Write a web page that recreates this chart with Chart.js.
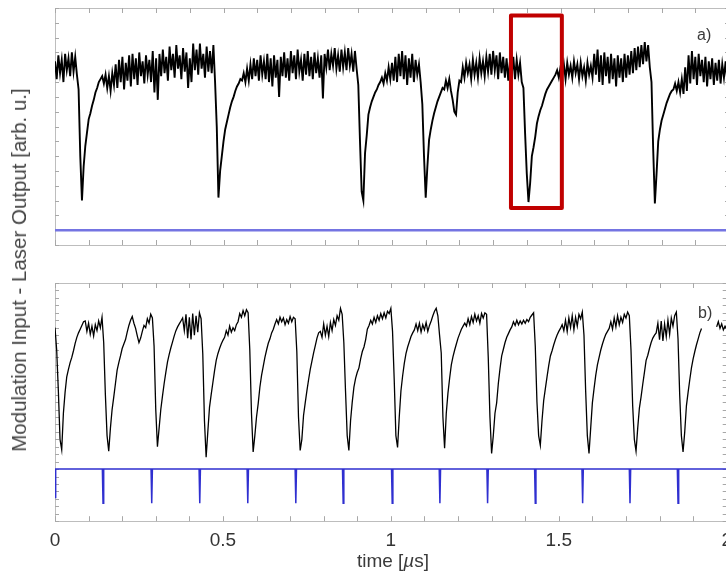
<!doctype html>
<html>
  <head>
    <title>Laser output vs modulation input</title>
    <script src="https://cdn.jsdelivr.net/npm/chart.js@4"></script>
    <style>
      body { margin: 0; background: #fff; overflow: hidden; }
      #wrap { position: relative; width: 726px; height: 573px; overflow: hidden; }
      canvas { position: absolute; left: 0; }
      .lbl { position: absolute; font-family: "Liberation Sans", Arial, sans-serif; color: #3a3a3a; white-space: nowrap; }
    </style>
  </head>
  <body>
    <div id="wrap">
      <canvas id="laserChart" width="740" height="260" style="top:0"></canvas>
      <canvas id="modChart" width="740" height="303" style="top:270px"></canvas>
      <div class="lbl" id="yTitle" style="left:19px; top:270px; font-size:20.5px; color:#454545; transform:translate(-50%,-50%) rotate(-90deg);">Modulation Input - Laser Output [arb. u.]</div>
      <div class="lbl" style="left:393px; top:561px; font-size:19px; transform:translate(-50%,-50%);">time [<i>µ</i>s]</div>
      <div class="lbl" style="left:697px; top:26px; font-size:16px;">a)</div>
      <div class="lbl" style="left:698px; top:304px; font-size:16px;">b)</div>
    </div>
    <script>
      // time base of the scope traces, in µs
      var sampleStep = 0.005;

      // a) laser output, one value per 5 ns
      var laserA = [
        12.4, 11.2, 12.8, 11.6, 12.5, 11.0, 12.9, 11.8, 12.6, 11.4, 13.0, 11.7, 12.7, 11.5, 10.5, 6.0, 3.0, 5.3, 6.7, 7.6,
        8.5, 8.9, 9.4, 9.8, 10.3, 10.6, 11.0, 11.2, 11.4, 10.9, 11.5, 10.6, 11.4, 10.4, 11.6, 10.8, 12.2, 10.6, 12.5, 11.0,
        12.7, 10.5, 12.3, 11.1, 12.8, 10.7, 12.9, 11.2, 12.6, 10.8, 13.0, 11.4, 12.4, 10.9, 12.8, 11.5, 12.5, 11.0, 13.1, 10.3,
        12.6, 9.8, 12.9, 11.4, 13.2, 11.6, 12.7, 11.1, 13.4, 11.8, 12.9, 11.3, 13.5, 11.9, 12.8, 11.2, 13.3, 11.7, 13.0, 10.6,
        12.6, 11.0, 13.6, 11.8, 13.2, 11.5, 13.6, 11.9, 12.9, 11.3, 13.4, 11.7, 13.1, 11.6, 13.5, 11.0, 8.0, 3.2, 5.0, 6.0,
        7.0, 7.8, 8.3, 8.8, 9.3, 9.7, 10.0, 10.4, 10.7, 10.9, 11.2, 11.1, 11.6, 11.0, 11.9, 11.1, 12.2, 11.2, 12.6, 11.4,
        12.5, 11.1, 12.8, 11.5, 12.4, 11.2, 12.9, 11.0, 12.6, 10.7, 12.8, 11.3, 12.5, 10.0, 12.7, 11.4, 13.0, 11.3, 12.6, 11.1,
        13.1, 11.6, 12.8, 11.2, 13.2, 11.7, 12.5, 11.1, 12.9, 11.5, 13.1, 11.4, 12.7, 11.2, 13.0, 11.6, 12.6, 11.3, 12.8, 9.9,
        12.9, 12.0, 13.2, 11.8, 12.9, 12.1, 13.3, 11.9, 12.8, 11.7, 13.2, 12.0, 13.0, 11.8, 13.3, 12.1, 12.9, 11.7, 13.1, 11.9,
        10.8, 7.0, 3.6, 3.0, 6.2, 7.4, 8.8, 9.3, 9.7, 10.0, 10.3, 10.5, 10.8, 11.0, 11.3, 10.9, 11.6, 11.1, 12.0, 11.2,
        12.3, 11.1, 12.7, 11.0, 12.9, 11.4, 13.1, 11.2, 12.8, 10.8, 12.6, 11.3, 12.9, 11.0, 12.5, 11.5, 12.2, 11.0, 9.5, 6.0,
        3.2, 5.3, 7.1, 7.8, 8.4, 8.9, 9.3, 9.7, 10.0, 10.3, 10.6, 10.5, 11.1, 10.6, 11.2, 10.4, 9.8, 9.0, 8.8, 10.3,
        11.1, 11.0, 12.0, 11.3, 12.3, 11.6, 12.2, 11.2, 12.5, 11.5, 12.3, 11.3, 12.6, 11.6, 12.4, 11.4, 12.7, 11.7, 12.9, 11.5,
        13.1, 11.8, 12.8, 11.2, 13.0, 11.6, 12.7, 11.3, 12.6, 11.1, 12.4, 11.4, 12.7, 11.2, 12.5, 11.5, 12.3, 11.0, 10.6, 7.5,
        4.8, 2.9, 4.2, 6.0, 6.6, 7.3, 8.2, 8.7, 9.1, 9.4, 9.8, 10.2, 10.5, 10.7, 10.9, 11.1, 11.3, 11.5, 11.8, 11.3,
        12.0, 11.4, 12.2, 11.2, 12.3, 11.5, 12.1, 11.3, 12.4, 11.6, 12.2, 11.2, 12.3, 11.4, 12.0, 11.1, 12.3, 11.5, 12.1, 11.3,
        12.9, 11.5, 13.2, 11.0, 12.8, 10.8, 13.0, 11.4, 12.7, 10.9, 12.9, 11.2, 12.6, 10.7, 12.8, 11.3, 12.6, 11.0, 12.9, 11.3,
        12.8, 11.5, 13.1, 11.6, 13.3, 11.8, 13.4, 12.0, 13.5, 12.2, 13.7, 12.4, 13.5, 12.0, 11.0, 6.5, 2.8, 4.8, 7.0, 7.8,
        8.4, 8.8, 9.2, 9.6, 9.9, 10.2, 10.4, 10.5, 10.9, 10.4, 11.0, 10.3, 11.2, 10.2, 12.0, 10.4, 12.8, 10.9, 13.1, 11.2,
        12.7, 10.8, 12.9, 11.4, 12.5, 11.0, 12.7, 10.7, 12.4, 11.2, 12.6, 10.8, 12.3, 11.1, 12.5, 10.9, 12.2, 11.3, 12.4, 11.0,
        12.1
      ];

      // a) modulation input (flat)
      var modAT = [0, 2];
      var modAV = [1.0, 1.0];

      // b) laser output, one value per 5 ns (gap where the label sits)
      var laserB = [
        26.0, 23.0, 17.5, 11.0, 9.6, 14.5, 17.3, 19.4, 20.4, 21.3, 22.0, 22.9, 23.9, 24.7, 25.3, 25.8, 26.3, 26.8, 26.9, 25.5,
        26.6, 25.1, 26.2, 24.9, 26.4, 25.6, 26.9, 26.0, 27.4, 24.0, 17.0, 11.5, 9.4, 12.5, 15.0, 16.7, 18.5, 20.3, 21.3, 22.2,
        23.2, 23.8, 24.4, 25.4, 26.3, 27.0, 27.5, 26.6, 25.9, 24.9, 24.0, 24.6, 25.5, 26.3, 26.0, 27.2, 26.6, 27.8, 27.3, 23.5,
        15.0, 10.0, 12.5, 15.0, 16.8, 18.5, 20.0, 21.4, 22.4, 23.3, 24.1, 24.9, 25.6, 26.1, 26.5, 26.9, 27.3, 25.6, 27.8, 24.6,
        27.4, 24.4, 27.9, 25.0, 27.6, 25.4, 28.0, 27.2, 22.5, 13.5, 8.6, 12.0, 15.3, 17.0, 18.6, 20.2, 21.6, 22.5, 23.2, 23.8,
        24.3, 24.7, 25.6, 25.0, 26.2, 25.4, 26.0, 25.6, 26.4, 26.8, 27.9, 27.4, 28.3, 27.6, 28.4, 28.0, 23.0, 14.5, 9.3, 11.5,
        14.0, 15.8, 18.0, 19.6, 20.8, 22.0, 23.0, 23.9, 24.5, 25.3, 25.8, 26.5, 27.1, 26.5, 27.4, 26.8, 27.3, 26.4, 27.1, 26.6,
        27.5, 26.8, 27.4, 27.2, 22.8, 14.0, 9.5, 11.0, 14.2, 15.9, 17.5, 19.0, 20.4, 21.5, 22.6, 23.6, 24.6, 25.3, 25.5, 24.7,
        26.5, 25.0, 26.2, 24.8, 26.7, 25.6, 27.1, 26.3, 27.6, 27.0, 28.6, 27.8, 24.0, 17.5, 11.5, 9.5, 13.5, 16.0, 18.0, 19.2,
        20.0, 20.6, 21.8, 22.8, 23.4, 24.4, 25.8, 26.3, 27.0, 26.5, 27.4, 26.7, 27.6, 27.0, 27.9, 27.2, 28.0, 27.3, 28.2, 27.9,
        28.6, 25.5, 19.0, 11.5, 9.9, 14.0, 17.5, 19.5, 21.2, 22.5, 23.4, 24.1, 24.8, 25.3, 25.7, 26.5, 25.6, 26.6, 25.4, 26.4,
        25.7, 26.7, 25.5, 26.3, 26.9, 27.6, 28.2, 28.6, 27.6, 25.0, 22.6, 14.0, 9.8, 14.5, 17.2, 19.2, 21.0, 22.1, 23.0, 23.8,
        24.6, 25.2, 25.8, 26.2, 26.6, 26.2, 27.2, 26.4, 27.5, 26.7, 27.8, 26.9, 27.6, 26.6, 27.9, 27.3, 28.0, 27.8, 22.0, 14.0,
        9.1, 11.5, 14.5, 15.9, 18.5, 20.5, 22.2, 23.1, 24.0, 24.7, 25.2, 25.7, 26.1, 26.8, 26.3, 27.0, 26.4, 26.9, 26.5, 27.0,
        26.6, 27.1, 26.8, 27.4, 27.7, 28.0, 23.5, 16.0, 11.5, 10.2, 13.5, 16.2, 17.8, 19.4, 20.9, 22.2, 22.9, 23.7, 24.4, 25.0,
        25.5, 25.9, 26.4, 25.6, 27.0, 25.5, 27.3, 26.0, 27.6, 25.7, 27.4, 26.2, 27.8, 27.2, 28.1, 25.0, 17.5, 11.5, 9.1, 12.5,
        15.9, 17.8, 19.6, 21.0, 22.0, 23.0, 23.8, 24.5, 25.1, 25.5, 25.9, 26.8, 25.8, 27.3, 26.1, 27.6, 26.4, 27.4, 26.7, 27.8,
        27.3, 28.1, 27.6, 23.0, 15.5, 11.0, 9.4, 12.5, 15.2, 16.7, 18.4, 20.0, 21.6, 22.3, 23.2, 24.0, 24.6, 25.0, 25.3, 26.6,
        24.4, 26.9, 24.2, 26.5, 24.8, 27.0, 25.1, 27.3, 26.2, 27.6, 28.1, 24.5, 17.0, 11.5, 9.3, 12.0, 15.5, 17.3, 19.0, 20.6,
        21.8, 22.8, 23.7, 24.5, 25.3, 25.9, null, null, null, null, null, null, null, null, 26.1, 26.8, 25.9, 26.5, 25.7, 26.2,
        25.8
      ];

      // b) modulation input: pulse train
      var modBT = [0, 0.002,
        0.141, 0.143, 0.145, 0.286, 0.288, 0.290, 0.429, 0.431, 0.433,
        0.572, 0.574, 0.576, 0.715, 0.717, 0.719, 0.856, 0.858, 0.860,
        1.002, 1.004, 1.006, 1.144, 1.146, 1.148, 1.286, 1.288, 1.290,
        1.428, 1.430, 1.432, 1.569, 1.571, 1.573, 1.710, 1.712, 1.714,
        1.853, 1.855, 1.857, 2.0];
      var modBV = [3.2, 7.0,
        7.0, 2.4, 7.0, 7.0, 2.4, 7.0, 7.0, 2.4, 7.0,
        7.0, 2.4, 7.0, 7.0, 2.4, 7.0, 7.0, 2.4, 7.0,
        7.0, 2.4, 7.0, 7.0, 2.4, 7.0, 7.0, 2.4, 7.0,
        7.0, 2.4, 7.0, 7.0, 2.4, 7.0, 7.0, 2.4, 7.0,
        7.0, 2.4, 7.0, 7.0];

      var xTicks = [0, 0.5, 1, 1.5, 2];

      // zoom box drawn on panel a)
      var boxT = [1.353, 1.504];
      var boxV = [2.5, 15.5];

      function sampled(values) {
        return values.map(function (v, i) {
          return { x: i * sampleStep, y: v };
        });
      }

      function pairs(ts, vs) {
        return ts.map(function (t, i) {
          return { x: t, y: vs[i] };
        });
      }

      Chart.defaults.font.family = '"Liberation Sans", Arial, sans-serif';

      // frame + inward tick marks like the scope plot
      var framePlugin = {
        id: "frame",
        beforeDatasetsDraw: function (chart) {
          var ctx = chart.ctx;
          var a = chart.chartArea;
          var sx = chart.scales.x;
          var sy = chart.scales.y;
          ctx.save();
          ctx.strokeStyle = "#bdbdbd";
          ctx.lineWidth = 1;
          ctx.strokeRect(Math.round(a.left) + 0.5, Math.round(a.top) + 0.5, Math.round(a.width), Math.round(a.height));
          ctx.strokeStyle = "#a8a8a8";
          ctx.beginPath();
          sx.ticks.forEach(function (t) {
            var px = Math.round(sx.getPixelForValue(t.value)) + 0.5;
            ctx.moveTo(px, a.top);
            ctx.lineTo(px, a.top + 5);
            ctx.moveTo(px, a.bottom);
            ctx.lineTo(px, a.bottom - 5);
          });
          sy.ticks.forEach(function (t) {
            var py = Math.round(sy.getPixelForValue(t.value)) + 0.5;
            ctx.moveTo(a.left, py);
            ctx.lineTo(a.left + 4, py);
            ctx.moveTo(a.right, py);
            ctx.lineTo(a.right - 4, py);
          });
          ctx.stroke();
          ctx.restore();
        },
      };

      var boxPlugin = {
        id: "zoomBox",
        afterDatasetsDraw: function (chart) {
          var ctx = chart.ctx;
          var sx = chart.scales.x;
          var sy = chart.scales.y;
          var x0 = sx.getPixelForValue(boxT[0]);
          var x1 = sx.getPixelForValue(boxT[1]);
          var y0 = sy.getPixelForValue(boxV[1]);
          var y1 = sy.getPixelForValue(boxV[0]);
          ctx.save();
          ctx.strokeStyle = "#c00000";
          ctx.lineWidth = 4;
          ctx.lineJoin = "round";
          ctx.strokeRect(x0, y0, x1 - x0, y1 - y0);
          ctx.restore();
        },
      };

      function baseOptions(yMax, showLabels, padding) {
        return {
          responsive: false,
          animation: false,
          events: [],
          layout: { padding: padding },
          plugins: { legend: { display: false }, tooltip: { enabled: false } },
          elements: { point: { radius: 0 }, line: { tension: 0 } },
          scales: {
            x: {
              type: "linear",
              min: 0,
              max: 2,
              grid: { display: false, drawTicks: false },
              border: { display: false },
              ticks: {
                display: showLabels,
                stepSize: 0.1,
                maxTicksLimit: 30,
                autoSkip: false,
                maxRotation: 0,
                padding: 8,
                color: "#333",
                font: { size: 19 },
                callback: function (v) {
                  var hit = xTicks.some(function (k) { return Math.abs(k - v) < 1e-6; });
                  return hit ? String(+v.toFixed(1)) : "";
                },
              },
            },
            y: {
              min: 0,
              max: yMax,
              grid: { display: false, drawTicks: false },
              border: { display: false },
              ticks: { display: false, stepSize: 1, maxTicksLimit: 40 },
            },
          },
        };
      }

      var laserChart = new Chart(document.getElementById("laserChart").getContext("2d"), {
        type: "line",
        data: {
          datasets: [
            { label: "modulation a", data: pairs(modAT, modAV), borderColor: "#7474e2", borderWidth: 2.5 },
            { label: "laser a", data: sampled(laserA), borderColor: "#000", borderWidth: 1.9 },
          ],
        },
        options: baseOptions(16, false, { left: 55, right: 11, top: 8, bottom: 15 }),
        plugins: [framePlugin, boxPlugin],
      });

      var modChart = new Chart(document.getElementById("modChart").getContext("2d"), {
        type: "line",
        data: {
          datasets: [
            { label: "modulation b", data: pairs(modBT, modBV), borderColor: "#2f2fd0", borderWidth: 1.5 },
            { label: "laser b", data: sampled(laserB), borderColor: "#000", borderWidth: 1.3, spanGaps: false },
          ],
        },
        options: baseOptions(32, true, { left: 55, right: 11, top: 13, bottom: 13 }),
        plugins: [framePlugin],
      });
    </script>
  </body>
</html>
